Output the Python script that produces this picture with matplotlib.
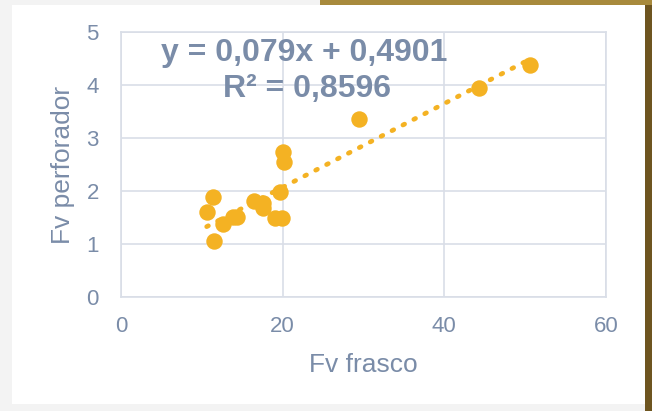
import numpy as np
import matplotlib.pyplot as plt
from matplotlib.patches import Rectangle

plt.rcParams['font.family'] = ['Liberation Sans', 'DejaVu Sans']

# data
fv_frasco = [50.6, 44.3, 29.4, 20.0, 20.2, 19.7, 19.9, 19.0, 11.4, 10.6,
             11.5, 12.6, 13.9, 14.4, 16.5, 17.6, 17.6]
fv_perforador = [4.38, 3.94, 3.36, 2.74, 2.55, 1.98, 1.49, 1.49, 1.89, 1.60,
                 1.06, 1.38, 1.51, 1.51, 1.81, 1.77, 1.68]
slope, intercept = 0.079, 0.4901
eq_text = "y = 0,079x + 0,4901"
r2_text = "R² = 0,8596"

text_col = '#7a8ca8'
grid_col = '#d9dee7'
dot_col = '#f4b223'

fig = plt.figure(figsize=(6.52, 4.11), dpi=100, facecolor='#f3f3f3')

# background card + gold edge
fig.patches.append(Rectangle((645/652, 0), 7/652, 1, transform=fig.transFigure,
                             facecolor='#6e5520', edgecolor='none', zorder=0))
fig.patches.append(Rectangle((320/652, 406/411), 332/652, 5/411, transform=fig.transFigure,
                             facecolor='#a88a3c', edgecolor='none', zorder=0))
fig.patches.append(Rectangle((12/652, 7/411), 633/652, 399/411, transform=fig.transFigure,
                             facecolor='white', edgecolor='none', zorder=1))

ax = fig.add_axes([121/652, 114/411, 485/652, 265/411])
ax.set_zorder(2)
ax.set_facecolor('white')

ax.scatter(fv_frasco, fv_perforador, s=140, color=dot_col, zorder=3, linewidths=0)

xs = np.array([min(fv_frasco), max(fv_frasco)])
ax.plot(xs, slope * xs + intercept, linestyle=(0, (0.4, 2.2)), color=dot_col,
        linewidth=3.4, dash_capstyle='round', zorder=2)

ax.set_xlim(0, 60)
ax.set_ylim(0, 5)
ax.set_xticks([0, 20, 40, 60])
ax.set_yticks([0, 1, 2, 3, 4, 5])
ax.grid(True, color=grid_col, linewidth=1.2, zorder=0)
for sp in ax.spines.values():
    sp.set_color(grid_col)
    sp.set_linewidth(1.2)
ax.tick_params(length=0, colors=text_col, labelsize=16)
ax.tick_params(axis='x', pad=14)
ax.tick_params(axis='y', pad=16)

ax.set_xlabel("Fv frasco", color=text_col, fontsize=19, labelpad=11)
ax.set_ylabel("Fv perforador", color=text_col, fontsize=19, labelpad=8)

ax.text(304/652, 1 - 53/411, eq_text, transform=fig.transFigure, ha='center', va='center',
        fontsize=23, fontweight='bold', color=text_col, zorder=5)
ax.text(307/652, 1 - 89/411, r2_text, transform=fig.transFigure, ha='center', va='center',
        fontsize=23, fontweight='bold', color=text_col, zorder=5)

plt.savefig('out.png', dpi=100, facecolor=fig.get_facecolor())
